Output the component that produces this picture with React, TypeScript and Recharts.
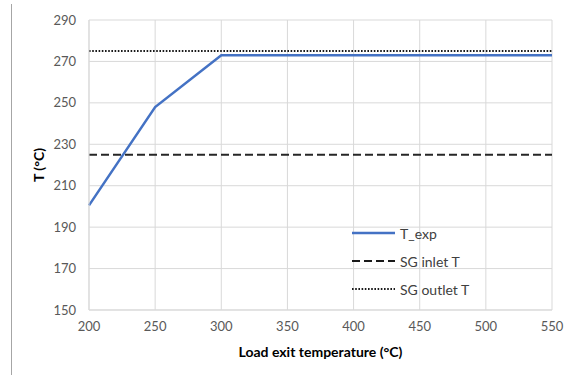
import { LineChart, Line, XAxis, YAxis, CartesianGrid } from "recharts";

const loadExit = [200, 250, 300, 350, 400, 450, 500, 550];
const tExp = [200.5, 248, 273, 273, 273, 273, 273, 273];
const sgInlet = [225, 225, 225, 225, 225, 225, 225, 225];
const sgOutlet = [275, 275, 275, 275, 275, 275, 275, 275];
const yTicks = [150, 170, 190, 210, 230, 250, 270, 290];

const data = loadExit.map((x, i) => ({
  x,
  tExp: tExp[i],
  inlet: sgInlet[i],
  outlet: sgOutlet[i],
}));

const FONT = "Lato, 'Open Sans', sans-serif";

const legendItems = [
  { label: "T_exp", stroke: "#4472c4", dash: undefined, width: 2.5 },
  { label: "SG inlet T", stroke: "#1a1a1a", dash: "8 4", width: 2 },
  { label: "SG outlet T", stroke: "#1a1a1a", dash: "1.6 1.6", width: 2 },
];

// legend sits inside the plot, like the Excel original
const LegendBox = () => (
  <div
    style={{
      position: "absolute",
      left: 352,
      top: 219,
      fontFamily: FONT,
      fontSize: 14,
      color: "#404040",
    }}
  >
    {legendItems.map((it) => (
      <div
        key={it.label}
        style={{ display: "flex", alignItems: "center", height: 28 }}
      >
        <svg width={44} height={10}>
          <line
            x1={0}
            y1={5}
            x2={43}
            y2={5}
            stroke={it.stroke}
            strokeWidth={it.width}
            strokeDasharray={it.dash}
          />
        </svg>
        <span style={{ marginLeft: 4 }}>{it.label}</span>
      </div>
    ))}
  </div>
);

export default function App() {
  return (
    <div
      style={{
        position: "absolute",
        left: 0,
        top: 0,
        width: 576,
        height: 375,
        background: "#fff",
      }}
    >
      <div
        style={{
          position: "absolute",
          left: 11,
          top: 4,
          width: 1,
          height: 371,
          background: "#a6a6a6",
        }}
      />
      <LineChart
        width={576}
        height={375}
        data={data}
        margin={{ top: 20, right: 24, left: 40, bottom: 35 }}
      >
        <CartesianGrid stroke="#d9d9d9" strokeWidth={1} />
        <XAxis
          dataKey="x"
          type="number"
          domain={[200, 550]}
          ticks={loadExit}
          axisLine={{ stroke: "#d9d9d9" }}
          tickLine={false}
          tickSize={0}
          tickMargin={12}
          height={30}
          tick={{ fill: "#595959", fontSize: 13, fontFamily: FONT }}
          label={{
            value: "Load exit temperature (°C)",
            position: "insideBottom",
            offset: -17,
            style: {
              fill: "#000",
              fontWeight: 700,
              fontSize: 14,
              fontFamily: FONT,
            },
          }}
        />
        <YAxis
          type="number"
          domain={[150, 290]}
          ticks={yTicks}
          axisLine={{ stroke: "#d9d9d9" }}
          tickLine={false}
          tickSize={0}
          tickMargin={13}
          width={49}
          tick={{ fill: "#595959", fontSize: 13, fontFamily: FONT }}
          label={{
            value: "T (°C)",
            angle: -90,
            position: "insideLeft",
            offset: -1,
            style: {
              fill: "#000",
              fontWeight: 700,
              fontSize: 14,
              fontFamily: FONT,
              textAnchor: "middle",
            },
          }}
        />
        <Line
          dataKey="tExp"
          name="T_exp"
          stroke="#4472c4"
          strokeWidth={2.5}
          dot={false}
          isAnimationActive={false}
        />
        <Line
          dataKey="inlet"
          name="SG inlet T"
          stroke="#262626"
          strokeWidth={2}
          strokeDasharray="8 4"
          dot={false}
          isAnimationActive={false}
        />
        <Line
          dataKey="outlet"
          name="SG outlet T"
          stroke="#1a1a1a"
          strokeWidth={2}
          strokeDasharray="1.6 1.6"
          dot={false}
          isAnimationActive={false}
        />
      </LineChart>
      <LegendBox />
    </div>
  );
}
